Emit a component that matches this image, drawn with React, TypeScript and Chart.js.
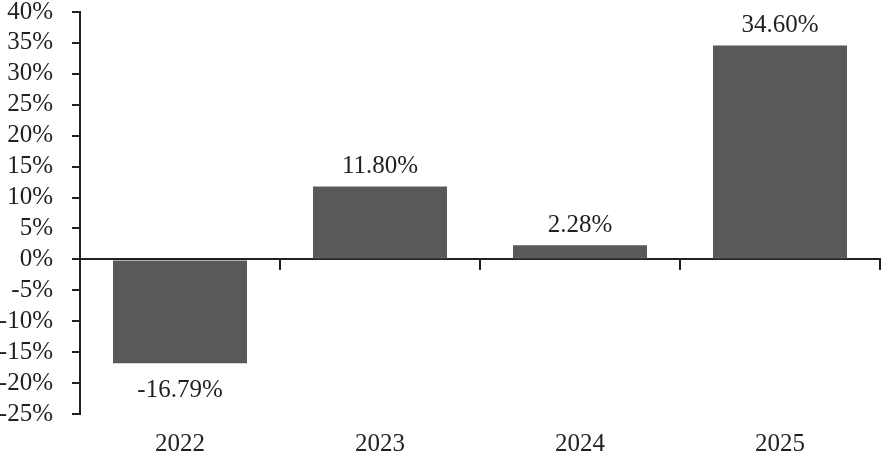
import React, { useEffect, useRef } from "react";
import { Chart, registerables } from "chart.js";

Chart.register(...registerables);

const categories = ["2022", "2023", "2024", "2025"];
const returns = [-16.79, 11.8, 2.28, 34.6];
const valueLabels = ["-16.79%", "11.80%", "2.28%", "34.60%"];
const yMin = -25;
const yMax = 40;
const yStep = 5;

const FONT_FAMILY = "'Liberation Serif', 'Times New Roman', serif";
const FONT_SIZE = 25;
const TEXT = "#231f20";
const BAR = "#58595b";

const valueLabelPlugin = {
  id: "valueLabels",
  afterDatasetsDraw(chart: any) {
    const ctx = chart.ctx;
    const meta = chart.getDatasetMeta(0);
    ctx.save();
    ctx.font = `${FONT_SIZE}px ${FONT_FAMILY}`;
    ctx.fillStyle = TEXT;
    ctx.textAlign = "center";
    ctx.textBaseline = "alphabetic";
    meta.data.forEach((bar: any, i: number) => {
      const { x, y } = bar.getProps(["x", "y"], true);
      if (returns[i] >= 0) {
        ctx.fillText(valueLabels[i], x, y - 13);
      } else {
        ctx.fillText(valueLabels[i], x, y + 34);
      }
    });
    ctx.restore();
  },
};

export default function App() {
  const ref = useRef<HTMLCanvasElement>(null);

  useEffect(() => {
    document.body.style.margin = "0";
    const canvas = ref.current;
    if (!canvas) return;
    const font = { family: FONT_FAMILY, size: FONT_SIZE, lineHeight: 1 };
    const chart = new Chart(canvas, {
      type: "bar",
      data: {
        labels: categories,
        datasets: [
          {
            data: returns,
            backgroundColor: BAR,
            borderWidth: 0,
            categoryPercentage: 1,
            barPercentage: 0.67,
          },
        ],
      },
      options: {
        responsive: false,
        animation: false,
        layout: { padding: { top: 12, right: 1, bottom: 0, left: 0 } },
        plugins: { legend: { display: false }, tooltip: { enabled: false } },
        scales: {
          x: {
            type: "category",
            position: { y: 0 } as any,
            offset: true,
            grid: {
              offset: true,
              drawOnChartArea: false,
              drawTicks: true,
              tickLength: 10,
              color: TEXT,
              lineWidth: 2,
            },
            border: { display: true, color: TEXT, width: 2 },
            ticks: { display: false },
          },
          xLabels: {
            type: "category",
            position: "bottom",
            offset: true,
            grid: { display: false, drawTicks: false },
            border: { display: false },
            ticks: { font, color: TEXT, padding: 18, maxRotation: 0 },
            afterFit: (s: any) => {
              s.height = 44;
              s.paddingLeft = 0;
              s.paddingRight = 0;
            },
          },
          y: {
            type: "linear",
            min: yMin,
            max: yMax,
            ticks: {
              stepSize: yStep,
              autoSkip: false,
              font,
              color: TEXT,
              padding: 19,
              callback: (v: any) => `${v}%`,
            },
            grid: {
              drawOnChartArea: false,
              drawTicks: true,
              tickLength: 8,
              color: TEXT,
              lineWidth: 2,
            },
            border: { display: true, color: TEXT, width: 2 },
            afterFit: (s: any) => {
              s.width = 80;
              s.paddingTop = 0;
              s.paddingBottom = 0;
            },
          },
        },
      },
      plugins: [valueLabelPlugin],
    } as any);
    return () => chart.destroy();
  }, []);

  return <canvas ref={ref} width={881} height={458} style={{ display: "block" }} />;
}
